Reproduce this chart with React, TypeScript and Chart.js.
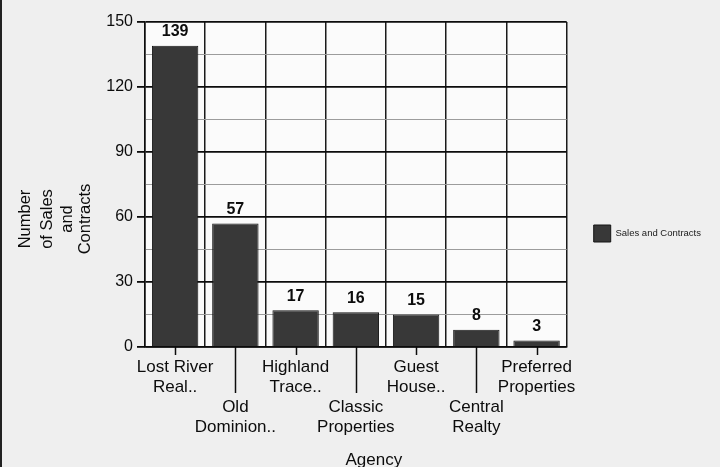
import React, { useEffect, useRef } from "react";
import { Chart, registerables } from "chart.js";

Chart.register(...registerables);

const categories: string[][] = [
  ["Lost River", "Real.."],
  ["Old", "Dominion.."],
  ["Highland", "Trace.."],
  ["Classic", "Properties"],
  ["Guest", "House.."],
  ["Central", "Realty"],
  ["Preferred", "Properties"],
];
const salesAndContracts: number[] = [139, 57, 17, 16, 15, 8, 3];
const seriesName = "Sales and Contracts";
const yTitleLines: string[] = ["Number", "of Sales", "and", "Contracts"];
const xTitle = "Agency";
const yMin = 0;
const yMax = 150;
const yMinorStep = 15;
const yMajorStep = 30;

const FONT = 'Arial, "Liberation Sans", sans-serif';
const INK = "#0c0c0c";

export default function App() {
  const ref = useRef<HTMLCanvasElement | null>(null);

  useEffect(() => {
    document.body.style.margin = "0";
    const canvas = ref.current;
    if (!canvas) return;

    const background = {
      id: "background",
      beforeDraw(chart: any) {
        const { ctx, chartArea, width, height } = chart;
        ctx.save();
        ctx.fillStyle = "#efefef";
        ctx.fillRect(0, 0, width, height);
        ctx.fillStyle = "#fbfbfb";
        ctx.fillRect(chartArea.left, chartArea.top, chartArea.right - chartArea.left, chartArea.bottom - chartArea.top);
        ctx.fillStyle = "#222";
        ctx.fillRect(0, 0, 2, height);
        ctx.restore();
      },
    };

    const extras = {
      id: "extras",
      afterDraw(chart: any) {
        const { ctx, chartArea } = chart;
        const xs = chart.scales.x;
        ctx.save();
        // staggered tick marks at category centers
        ctx.strokeStyle = INK;
        ctx.lineWidth = 1.5;
        xs.ticks.forEach((_t: any, i: number) => {
          const px = Math.round(xs.getPixelForTick(i)) + 0.5;
          const len = i % 2 === 1 ? 46 : 8;
          ctx.beginPath();
          ctx.moveTo(px, chartArea.bottom);
          ctx.lineTo(px, chartArea.bottom + len);
          ctx.stroke();
        });
        // value labels
        ctx.fillStyle = INK;
        ctx.font = `bold 16px ${FONT}`;
        ctx.textAlign = "center";
        ctx.textBaseline = "bottom";
        const meta = chart.getDatasetMeta(0);
        meta.data.forEach((bar: any, i: number) => {
          ctx.fillText(String(chart.data.datasets[0].data[i]), bar.x, bar.y - 6);
        });
        // y title
        ctx.font = `16.5px ${FONT}`;
        ctx.textBaseline = "middle";
        const cy = chartArea.bottom - 128;
        const offs = [120, 98, 78, 60];
        yTitleLines.forEach((line, i) => {
          ctx.save();
          ctx.translate(chartArea.left - offs[i], cy);
          ctx.rotate(-Math.PI / 2);
          ctx.fillText(line, 0, 0);
          ctx.restore();
        });
        // x title
        ctx.font = `17px ${FONT}`;
        ctx.fillText(xTitle, (chartArea.left + chartArea.right) / 2 + 18, chartArea.bottom + 113);
        ctx.restore();
      },
    };

    const labels = categories.map((c, i) => (i % 2 === 1 ? ["", "", ...c] : c));

    const chart = new Chart(canvas, {
      type: "bar",
      data: {
        labels,
        datasets: [
          {
            label: seriesName,
            data: salesAndContracts,
            backgroundColor: "#383838",
            borderColor: "#151515",
            borderWidth: 1,
            barPercentage: 0.77,
            categoryPercentage: 1,
          },
        ],
      },
      options: {
        animation: false,
        responsive: false,
        layout: { padding: { left: 100, top: 0, right: 9, bottom: 0 } },
        plugins: {
          title: {
            display: true,
            text: "",
            fullSize: false,
            padding: 0,
            font: { size: 22, lineHeight: 1 },
          },
          legend: {
            position: "right",
            fullSize: true,
            labels: {
              boxWidth: 17,
              boxHeight: 17,
              padding: 27,
              color: "#1a1a1a",
              font: { size: 9.5, family: FONT },
            },
          },
          tooltip: { enabled: false },
        },
        scales: {
          x: {
            afterFit(s: any) {
              s.height = 120;
            },
            grid: {
              offset: true,
              drawTicks: false,
              color: "#1a1a1a",
              lineWidth: 1.5,
            },
            border: { color: INK, width: 1.5 },
            ticks: {
              padding: 10,
              color: INK,
              autoSkip: false,
              maxRotation: 0,
              font: { size: 17, family: FONT, lineHeight: 20 / 17 },
            },
          },
          y: {
            min: yMin,
            max: yMax,
            afterFit(s: any) {
              s.width = 45;
            },
            grid: {
              color: (c: any) => (c.tick && c.tick.value % yMajorStep === 0 ? "#0c0c0c" : "#9c9c9c"),
              lineWidth: (c: any) => (c.tick && c.tick.value % yMajorStep === 0 ? 1.8 : 1),
              tickColor: (c: any) => (c.tick && c.tick.value % yMajorStep === 0 ? "#0c0c0c" : "rgba(0,0,0,0)"),
              tickLength: 8,
            },
            border: { color: INK, width: 1.5 },
            ticks: {
              stepSize: yMinorStep,
              padding: 4,
              color: INK,
              font: { size: 16, family: FONT },
              callback: (v: any) => (Number(v) % yMajorStep === 0 ? String(v) : ""),
            },
          },
        },
      },
      plugins: [background, extras],
    });

    return () => chart.destroy();
  }, []);

  return (
    <div style={{ position: "absolute", left: 0, top: 0, width: 720, height: 467 }}>
      <canvas ref={ref} width={720} height={467} style={{ display: "block" }} />
    </div>
  );
}
